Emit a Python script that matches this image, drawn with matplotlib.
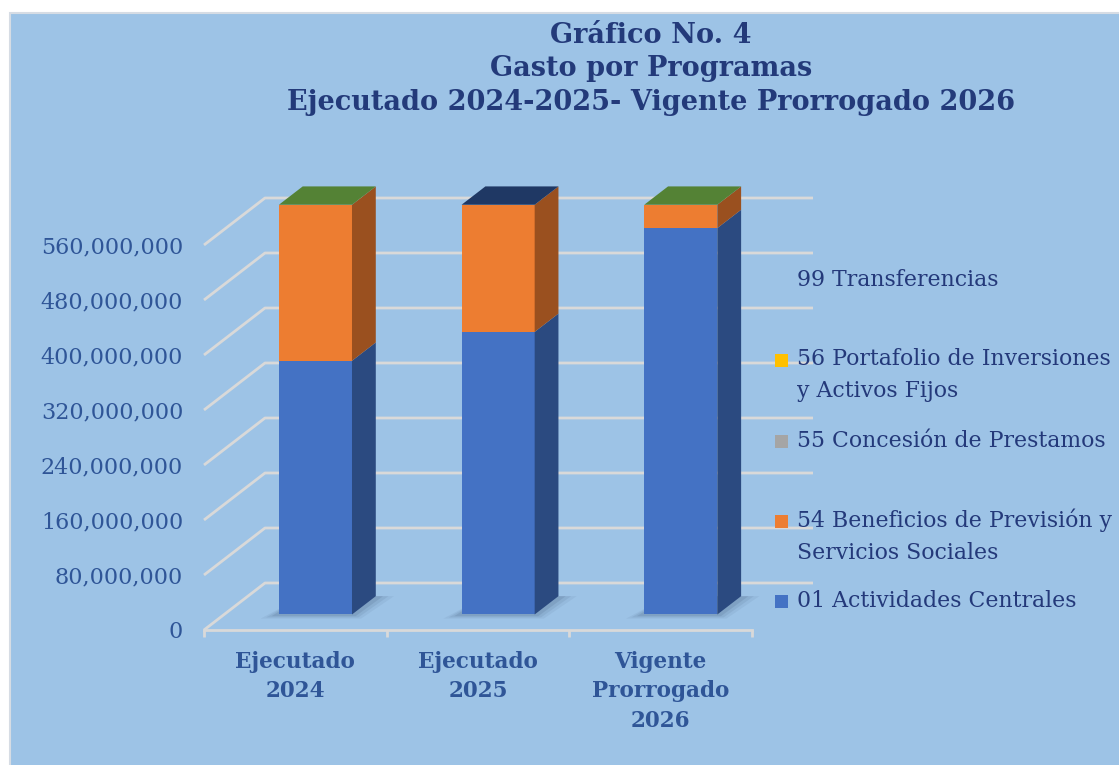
import matplotlib.pyplot as plt
from matplotlib.patches import Polygon, Rectangle
import numpy as np

categorias = ["Ejecutado\n2024", "Ejecutado\n2025", "Vigente\nProrrogado\n2026"]
act_centrales = [369e6, 411e6, 562e6]
beneficios = [227e6, 185e6, 34e6]
concesion = [0, 0, 0]
portafolio = [0, 0, 0]
transferencias = [0, 0, 0]
nombres = ["01 Actividades Centrales",
           "54 Beneficios de Previsión y\nServicios Sociales",
           "55 Concesión de Prestamos",
           "56 Portafolio de Inversiones\ny Activos Fijos",
           "99 Transferencias"]
yticks = np.arange(0, 560e6 + 1, 80e6)
titulo = "Gráfico No. 4\nGasto por Programas\nEjecutado 2024-2025- Vigente Prorrogado 2026"

series = [act_centrales, beneficios, concesion, portafolio, transferencias]
frente = ['#4472C4', '#ED7D31', '#A5A5A5', '#FFC000', '#9DC3E6']
lado = ['#2B4A80', '#9A501F', '#6B6B6B', '#A67C00', '#5B8DBF']
tapa = ['#548235', '#1F3864', '#548235']

FW, FH = 1119, 765
fig = plt.figure(figsize=(FW / 100, FH / 100), dpi=100)
fig.patch.set_facecolor('white')
fig.add_artist(Rectangle((10 / FW, -0.01), 1.1, (FH - 13) / FH + 0.01, transform=fig.transFigure,
                         facecolor='#9DC3E6', edgecolor='#D6DCE4', lw=1.5, zorder=0))

ax = fig.add_axes([204 / FW, 135 / FH, 548 / FW, 440 / FH])
ax.set_facecolor('none')
ax.set_xlim(-0.5, 2.5)
ax.set_ylim(0, 640e6)

# profundidad 3D en unidades de datos
DX = 61 / (548 / 3)
DY = 47 / (440 / 640e6)
f = 0.33
prof = 0.39
grid_c = '#D9D9D9'

for v in yticks:
    ax.plot([-0.5, -0.5 + DX, 2.5 + DX], [v + 0, v + DY, v + DY], color=grid_c, lw=2,
            clip_on=False, zorder=1, solid_capstyle='butt')

for s in ['top', 'right', 'left']:
    ax.spines[s].set_visible(False)
ax.spines['bottom'].set_color(grid_c)
ax.spines['bottom'].set_linewidth(2)

ax.set_yticks(yticks)
ax.set_yticklabels([f"{int(v):,}" for v in yticks], family='DejaVu Serif', fontsize=16, color='#2F5597')
ax.tick_params(axis='y', length=0, pad=15)
x = np.arange(len(categorias))
ax.set_xticks(x)
ax.set_xticklabels(categorias, family='DejaVu Serif', fontsize=15.5, fontweight='bold',
                   color='#2F5597', linespacing=1.45, va='top')
ax.set_xticks(np.arange(-0.5, 3, 1), minor=True)
ax.tick_params(axis='x', which='major', length=0, pad=15)
ax.tick_params(axis='x', which='minor', length=5, width=2, color=grid_c)

hw = 0.2
base = f * DY
bdx, bdy = prof * DX, prof * DY
xc = x + f * DX

# sombras
for i in range(len(x)):
    xl, xr = xc[i] - hw, xc[i] + hw
    for k, a in [(0.10, 0.06), (0.07, 0.08), (0.04, 0.10)]:
        e = k
        ax.add_patch(Polygon([(xl - e, base - e * 60e6), (xr + e * 0.5, base - e * 60e6),
                              (xr + bdx + e, base + bdy), (xl + bdx, base + bdy)],
                             closed=True, facecolor='#1F2F50', alpha=a, lw=0, zorder=2, clip_on=False))

bottom = np.full(len(x), base)
for s, vals in enumerate(series):
    vals = np.array(vals, dtype=float)
    ax.bar(xc, vals, width=2 * hw, bottom=bottom, color=frente[s], zorder=3, clip_on=False, lw=0)
    for i in range(len(x)):
        if vals[i] <= 0:
            continue
        xr = xc[i] + hw
        y0, y1 = bottom[i], bottom[i] + vals[i]
        ax.add_patch(Polygon([(xr, y0), (xr + bdx, y0 + bdy), (xr + bdx, y1 + bdy), (xr, y1)],
                             closed=True, facecolor=lado[s], lw=0, zorder=3, clip_on=False))
    bottom = bottom + vals

for i in range(len(x)):
    xl, xr = xc[i] - hw, xc[i] + hw
    t = bottom[i]
    ax.add_patch(Polygon([(xl, t), (xl + bdx, t + bdy), (xr + bdx, t + bdy), (xr, t)],
                         closed=True, facecolor=tapa[i], lw=0, zorder=3, clip_on=False))

fig.text(651 / FW, 1 - 69 / FH, titulo, ha='center', va='center', family='DejaVu Serif',
         fontsize=19.5, fontweight='bold', color='#233A7A', linespacing=1.3)

# leyenda
ley_y = [601, 521, 441, 360, 280]
for s, nombre in enumerate(nombres):
    n = nombre.count('\n')
    yc = ley_y[s] + n * 15
    fig.text(797 / FW, 1 - yc / FH, nombre, ha='left', va='center', family='DejaVu Serif',
             fontsize=15.8, color='#24397A', linespacing=1.6)
    if s < 4:
        fig.add_artist(Rectangle((775 / FW, 1 - (ley_y[s] + 7) / FH), 13 / FW, 13 / FH,
                                 transform=fig.transFigure, facecolor=frente[s], lw=0))

fig.savefig('out.png', dpi=100)
